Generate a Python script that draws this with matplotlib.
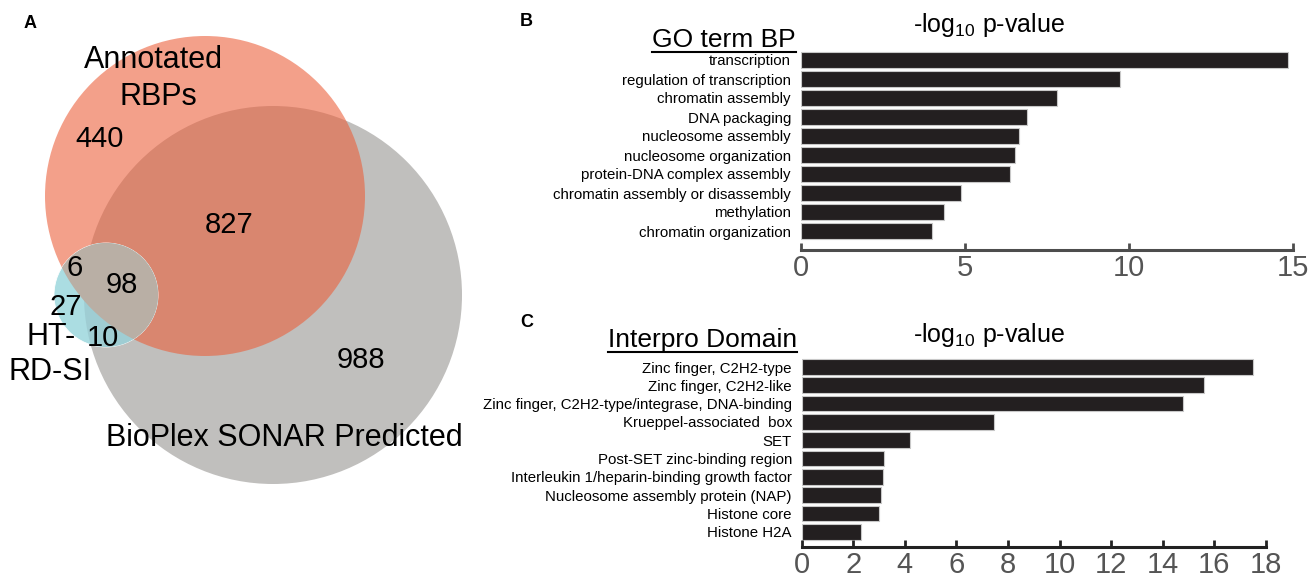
import numpy as np
import matplotlib
matplotlib.use("Agg")
import matplotlib.pyplot as plt
from matplotlib.patches import Circle
from matplotlib.lines import Line2D

plt.rcParams['font.family'] = 'Liberation Sans'
plt.rcParams['mathtext.default'] = 'regular'

# --- data ---
venn_counts = {"rbp_only": 440, "rbp_sonar": 827, "rbp_ht": 6, "all3": 98,
               "ht_only": 27, "ht_sonar": 10, "sonar_only": 988}

go_terms = ["transcription", "regulation of transcription", "chromatin assembly",
            "DNA packaging", "nucleosome assembly", "nucleosome organization",
            "protein-DNA complex assembly", "chromatin assembly or disassembly",
            "methylation", "chromatin organization"]
go_logp = [14.84, 9.73, 7.82, 6.91, 6.65, 6.53, 6.38, 4.88, 4.38, 4.0]

ipr_terms = ["Zinc finger, C2H2-type", "Zinc finger, C2H2-like",
             "Zinc finger, C2H2-type/integrase, DNA-binding", "Krueppel-associated  box",
             "SET", "Post-SET zinc-binding region",
             "Interleukin 1/heparin-binding growth factor",
             "Nucleosome assembly protein (NAP)", "Histone core", "Histone H2A"]
ipr_logp = [17.5, 15.6, 14.8, 7.44, 4.18, 3.18, 3.16, 3.08, 2.98, 2.31]

W, H = 1314, 580
fig = plt.figure(figsize=(W / 100, H / 100), dpi=100)


def fx(x):
    return x / W


def fy(y):
    return 1 - y / H


# --- panel A: venn (axes in pixel units) ---
axv = fig.add_axes([0, 0, 480 / W, 1])
axv.set_xlim(0, 480)
axv.set_ylim(H, 0)
axv.axis('off')

gray = Circle((273, 295), 189, facecolor='#c0bfbd', edgecolor='none')
red = Circle((205, 196), 160, facecolor=(236 / 255, 94 / 255, 57 / 255), alpha=0.59, edgecolor='none')
axv.add_patch(gray)
axv.add_patch(red)

cyan = Circle((106, 295), 52, facecolor='#abdde2', edgecolor='white', linewidth=0.6)
axv.add_patch(cyan)
cyan_gray = Circle((106, 295), 52, facecolor='#9fcdd3', edgecolor='none')
axv.add_patch(cyan_gray)
cyan_gray.set_clip_path(Circle((273, 295), 189, transform=axv.transData))
cyan_red = Circle((106, 295), 52, facecolor='#b9afa5', edgecolor='none')
axv.add_patch(cyan_red)
cyan_red.set_clip_path(Circle((205, 196), 160, transform=axv.transData))

big = 21
axv.text(30, 23, "A", fontsize=13, fontweight='bold', ha='center', va='center')
axv.text(153, 60, "Annotated", fontsize=22, ha='center', va='center')
axv.text(158, 97, "RBPs", fontsize=22, ha='center', va='center')
axv.text(100, 139, str(venn_counts["rbp_only"]), fontsize=big, ha='center', va='center')
axv.text(229, 225, str(venn_counts["rbp_sonar"]), fontsize=big, ha='center', va='center')
axv.text(75, 268, str(venn_counts["rbp_ht"]), fontsize=big, ha='center', va='center')
axv.text(122, 285, str(venn_counts["all3"]), fontsize=big, ha='center', va='center')
axv.text(66, 307, str(venn_counts["ht_only"]), fontsize=big, ha='center', va='center')
axv.text(103, 338, str(venn_counts["ht_sonar"]), fontsize=big, ha='center', va='center')
axv.text(361, 360, str(venn_counts["sonar_only"]), fontsize=big, ha='center', va='center')
axv.text(51, 337, "HT-", fontsize=22, ha='center', va='center')
axv.text(50, 372, "RD-SI", fontsize=22, ha='center', va='center')
axv.text(284, 438, "BioPlex SONAR Predicted", fontsize=22, ha='center', va='center')


# --- bar panels ---
def bar_panel(terms, vals, x0, x1, xmax, c0, step, top, axis_y, ticks, axcol):
    ax = fig.add_axes([fx(x0), fy(axis_y), (x1 - x0) / W, (axis_y - top) / H])
    pos = np.arange(len(terms))
    ax.barh(pos, vals, height=0.86, color='#231f20', edgecolor='#c8c8c8', linewidth=0.8)
    ax.set_xlim(0, xmax)
    ax.set_ylim((axis_y - c0) / step, -(c0 - top) / step)
    ax.set_yticks(pos)
    ax.set_yticklabels(terms, fontsize=10.8)
    ax.tick_params(axis='y', length=0, pad=7)
    ax.set_xticks(ticks)
    ax.tick_params(axis='x', direction='in', length=5, width=2, color=axcol,
                   labelsize=21, labelcolor='#555555', pad=3)
    for s in ['top', 'left', 'right']:
        ax.spines[s].set_visible(False)
    ax.spines['bottom'].set_color(axcol)
    ax.spines['bottom'].set_linewidth(2.2)
    return ax


axb = bar_panel(go_terms, go_logp, 800.7, 1293, 15, 60, 19, 50, 250, [0, 5, 10, 15], '#4d4d4d')
axc = bar_panel(ipr_terms, ipr_logp, 801.7, 1266, 18, 367, 18.3, 357, 547,
                list(range(0, 19, 2)), '#222222')

# panel labels and headers
fig.text(fx(526), fy(22), "B", fontsize=13, fontweight='bold', ha='center', va='center')
fig.text(fx(527), fy(323), "C", fontsize=13, fontweight='bold', ha='center', va='center')
fig.text(fx(989), fy(25), "-log$_{10}$ p-value", fontsize=18, ha='center', va='center')
fig.text(fx(989), fy(335), "-log$_{10}$ p-value", fontsize=18, ha='center', va='center')
h1 = fig.text(fx(796), fy(40), "GO term BP", fontsize=19, ha='right', va='center')
h2 = fig.text(fx(797), fy(340), "Interpro Domain", fontsize=19, ha='right', va='center')

fig.canvas.draw()
r = fig.canvas.get_renderer()
for t, uy in [(h1, 52), (h2, 352)]:
    bb = t.get_window_extent(r)
    fig.add_artist(Line2D([bb.x0 / W, bb.x1 / W], [fy(uy), fy(uy)],
                          transform=fig.transFigure, color='black', linewidth=1.5))

fig.savefig("out.png", dpi=100)
